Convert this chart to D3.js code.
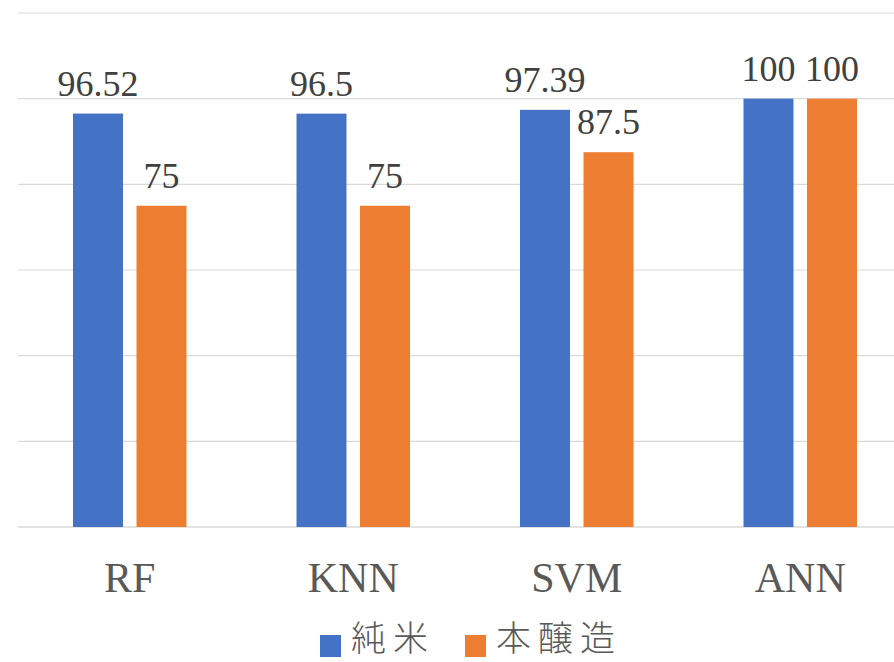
<!DOCTYPE html>
<html>
<head>
<meta charset="utf-8">
<script src="https://cdn.jsdelivr.net/npm/d3@7"></script>
<style>
  html, body { margin: 0; padding: 0; background: #fff; }
  svg { display: block; }
</style>
</head>
<body>
<svg id="chart" width="894" height="662"></svg>
<script>
// Accuracy (%) per classifier for two sake types
const categories = ["RF", "KNN", "SVM", "ANN"];
const seriesNames = ["純米", "本醸造"];
const junmai = [96.52, 96.5, 97.39, 100];
const honjozo = [75, 75, 87.5, 100];
const labelJunmai = ["96.52", "96.5", "97.39", "100"];
const labelHonjozo = ["75", "75", "87.5", "100"];
const yTicks = [0, 20, 40, 60, 80, 100, 120];
const colors = ["#4472c4", "#ed7d31"];

const seriesValues = [junmai, honjozo];
const seriesLabels = [labelJunmai, labelHonjozo];

const serifFont = "Liberation Serif";
const svg = d3.select("#chart");
const plot = { left: 18, right: 912, top: 13, bottom: 527 };

const y = d3.scaleLinear().domain([0, 120]).range([plot.bottom, plot.top]);
const x0 = d3.scaleBand().domain(categories).range([plot.left, plot.right]).padding(0);
const groupPad = 55;
const x1 = d3.scaleBand().domain(seriesNames)
  .range([groupPad, x0.bandwidth() - groupPad]).paddingInner(0.213);

// horizontal gridlines
svg.append("g").selectAll("line").data(yTicks).join("line")
  .attr("x1", plot.left).attr("x2", plot.right)
  .attr("y1", d => y(d)).attr("y2", d => y(d))
  .attr("stroke", "#d9d9d9").attr("stroke-width", d => d === 0 ? 1.5 : 1.2);

// bars and value labels
const groups = svg.append("g").selectAll("g").data(categories).join("g")
  .attr("transform", c => `translate(${x0(c)},0)`);

seriesNames.forEach((s, si) => {
  groups.append("rect")
    .attr("x", x1(s))
    .attr("width", x1.bandwidth())
    .attr("y", (c, i) => y(seriesValues[si][i]))
    .attr("height", (c, i) => y(0) - y(seriesValues[si][i]))
    .attr("fill", colors[si]);

  groups.append("text")
    .attr("x", x1(s) + x1.bandwidth() / 2)
    .attr("y", (c, i) => y(seriesValues[si][i]) - 18)
    .attr("text-anchor", "middle")
    .style("font-family", serifFont)
    .style("font-size", "36px")
    .attr("fill", "#404040")
    .text((c, i) => seriesLabels[si][i]);
});

// category axis labels
svg.append("g").selectAll("text").data(categories).join("text")
  .attr("x", c => x0(c) + x0.bandwidth() / 2)
  .attr("y", 592)
  .attr("text-anchor", "middle")
  .style("font-family", serifFont)
  .style("font-size", "42px")
  .attr("fill", "#595959")
  .text(c => c);

// legend
const legendItems = [
  { name: seriesNames[0], color: colors[0], sx: 320 },
  { name: seriesNames[1], color: colors[1], sx: 465 }
];
const legend = svg.append("g");
legendItems.forEach(it => {
  legend.append("rect")
    .attr("x", it.sx).attr("y", 635)
    .attr("width", 21).attr("height", 22)
    .attr("fill", it.color);
  legend.append("text")
    .attr("x", it.sx + 31)
    .attr("y", 651)
    .style("font-family", "Noto Sans CJK JP")
    .style("font-size", "35px")
    .style("font-weight", 300)
    .style("letter-spacing", "7px")
    .attr("fill", "#595959")
    .text(it.name);
});
</script>
</body>
</html>
